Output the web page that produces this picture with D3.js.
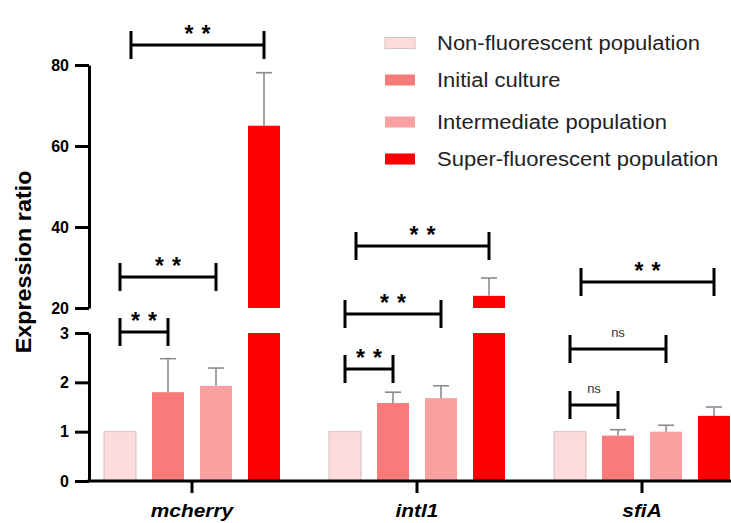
<!DOCTYPE html>
<html>
<head>
<meta charset="utf-8">
<script src="https://cdn.jsdelivr.net/npm/d3@7"></script>
<style>
  html, body { margin: 0; padding: 0; background: #fff; }
  svg { display: block; font-family: "Liberation Sans", Arial, sans-serif; }
</style>
</head>
<body>
<svg id="chart" width="731" height="523"></svg>
<script>
// ---------------- data ----------------
const categories = ["mcherry", "intl1", "sfiA"];
const seriesNames = ["Non-fluorescent population", "Initial culture", "Intermediate population", "Super-fluorescent population"];
const nonFluorescent = [1, 1, 1];
const initialCulture = [1.80, 1.58, 0.92];
const intermediate = [1.93, 1.68, 1.00];
const superFluorescent = [65, 23.0, 1.32];
const nonFluorescentErr = [0, 0, 0];
const initialCultureErr = [0.68, 0.22, 0.12];
const intermediateErr = [0.36, 0.25, 0.13];
const superFluorescentErr = [13.1, 4.4, 0.18];
const lowerTicks = [0, 1, 2, 3];
const upperTicks = [20, 40, 60, 80];
// significance comparisons: category index, from series, to series, label
const comparisons = [
  { cat: 0, from: 0, to: 1, label: "**" },
  { cat: 0, from: 0, to: 2, label: "**" },
  { cat: 0, from: 0, to: 3, label: "**" },
  { cat: 1, from: 0, to: 1, label: "**" },
  { cat: 1, from: 0, to: 2, label: "**" },
  { cat: 1, from: 0, to: 3, label: "**" },
  { cat: 2, from: 0, to: 1, label: "ns" },
  { cat: 2, from: 0, to: 2, label: "ns" },
  { cat: 2, from: 0, to: 3, label: "**" }
];

// ---------------- layout ----------------
const colors = ["#fddadc", "#f87a7a", "#f9a0a1", "#ff0000"];
const bracketY = [332, 277, 45, 369, 314, 246, 405, 349, 282]; // annotation pixel rows
const legendRows = [43, 80, 122, 159];

const values = [nonFluorescent, initialCulture, intermediate, superFluorescent];
const errors = [nonFluorescentErr, initialCultureErr, intermediateErr, superFluorescentErr];

const svg = d3.select("#chart");
const axisX = 89, baseY = 481;

const yLow = d3.scaleLinear().domain([0, 3]).range([481, 333]);
const yHigh = d3.scaleLinear().domain([20, 80]).range([308, 65]);
const x = d3.scaleBand().domain(categories).range([79.5, 754.5]);
const xs = d3.scaleBand().domain(d3.range(seriesNames.length)).range([-96, 96]).paddingInner(1/3).paddingOuter(1/6);

const bars = [];
categories.forEach((c, ci) => {
  seriesNames.forEach((s, si) => {
    bars.push({ cat: c, ci, si, v: values[si][ci], e: errors[si][ci] });
  });
});

const gBars = svg.append("g");
bars.forEach(b => {
  const x0 = x(b.cat) + x.bandwidth() / 2 + xs(b.si);
  const w = xs.bandwidth();
  const stroke = b.si === 0 ? "#d4c0c0" : "none";
  if (b.v <= 3) {
    gBars.append("rect").attr("x", x0).attr("y", yLow(b.v)).attr("width", w)
      .attr("height", yLow(0) - yLow(b.v)).attr("fill", colors[b.si])
      .attr("stroke", stroke).attr("stroke-width", 1);
  } else {
    gBars.append("rect").attr("x", x0).attr("y", yLow(3)).attr("width", w)
      .attr("height", yLow(0) - yLow(3)).attr("fill", colors[b.si]);
    gBars.append("rect").attr("x", x0).attr("y", yHigh(b.v)).attr("width", w)
      .attr("height", yHigh(20) - yHigh(b.v)).attr("fill", colors[b.si]);
  }
  if (b.e > 0) {
    const yf = b.v <= 3 ? yLow : yHigh;
    const cx = x0 + w / 2;
    gBars.append("line").attr("x1", cx).attr("x2", cx).attr("y1", yf(b.v)).attr("y2", yf(b.v + b.e))
      .attr("stroke", "#8c8c8c").attr("stroke-width", 1.6);
    gBars.append("line").attr("x1", cx - 8).attr("x2", cx + 8).attr("y1", yf(b.v + b.e)).attr("y2", yf(b.v + b.e))
      .attr("stroke", "#8c8c8c").attr("stroke-width", 1.6);
  }
});

// ---------------- axes ----------------
function styleAxis(g) {
  g.select(".domain").attr("stroke", "#000").attr("stroke-width", 3);
  g.selectAll(".tick line").attr("stroke", "#000").attr("stroke-width", 3);
  g.selectAll(".tick text").attr("fill", "#000").attr("font-size", 16).attr("font-weight", "bold")
    .attr("font-family", "Liberation Sans, Arial, sans-serif");
}
svg.append("g").attr("transform", `translate(${axisX},0)`)
  .call(d3.axisLeft(yLow).tickValues(lowerTicks).tickFormat(d3.format("d")).tickSize(14).tickSizeOuter(0).tickPadding(6))
  .call(styleAxis);
svg.append("g").attr("transform", `translate(${axisX},0)`)
  .call(d3.axisLeft(yHigh).tickValues(upperTicks).tickFormat(d3.format("d")).tickSize(14).tickSizeOuter(0).tickPadding(6))
  .call(styleAxis);

// x axis
svg.append("line").attr("x1", axisX - 1.5).attr("x2", 731).attr("y1", baseY).attr("y2", baseY)
  .attr("stroke", "#000").attr("stroke-width", 3);
const gx = svg.append("g").attr("transform", `translate(0,${baseY})`)
  .call(d3.axisBottom(x).tickSize(12).tickSizeOuter(0).tickPadding(11));
gx.select(".domain").remove();
gx.selectAll(".tick line").attr("stroke", "#000").attr("stroke-width", 3);
gx.selectAll(".tick text").attr("fill", "#000").attr("font-size", 19).attr("font-weight", "bold")
  .attr("font-style", "italic").attr("font-family", "Liberation Sans, Arial, sans-serif")
  .attr("dy", "0.71em")
  .each(function () {
    const len = this.getComputedTextLength();
    d3.select(this).attr("textLength", len * 1.1).attr("lengthAdjust", "spacingAndGlyphs");
  });

// y title
svg.append("text").attr("transform", "translate(31,262) rotate(-90)")
  .attr("text-anchor", "middle").attr("font-size", 22).attr("font-weight", "bold")
  .attr("fill", "#000").text("Expression ratio")
  .each(function () {
    const len = this.getComputedTextLength();
    d3.select(this).attr("textLength", len * 1.06).attr("lengthAdjust", "spacingAndGlyphs");
  });

// ---------------- significance brackets ----------------
const gSig = svg.append("g");
comparisons.forEach((c, i) => {
  const cx = x(categories[c.cat]) + x.bandwidth() / 2;
  let xa = cx + xs(c.from) + xs.bandwidth() / 2;
  const xb = cx + xs(c.to) + xs.bandwidth() / 2;
  if (c.to === 3) xa += 11;
  const y = bracketY[i];
  gSig.append("line").attr("x1", xa).attr("x2", xb).attr("y1", y).attr("y2", y)
    .attr("stroke", "#000").attr("stroke-width", 3);
  [xa, xb].forEach(xx => gSig.append("line").attr("x1", xx).attr("x2", xx)
    .attr("y1", y - 14).attr("y2", y + 14).attr("stroke", "#000").attr("stroke-width", 3));
  const mid = (xa + xb) / 2;
  if (c.label === "**") {
    gSig.append("text").attr("x", mid + 4).attr("y", y - 3).attr("text-anchor", "middle")
      .attr("font-size", 23).attr("font-weight", "bold").attr("letter-spacing", 8)
      .attr("fill", "#000").text(c.label);
  } else {
    gSig.append("text").attr("x", mid).attr("y", y - 12).attr("text-anchor", "middle")
      .attr("font-size", 13).attr("fill", "#333").text(c.label);
  }
});

// ---------------- legend ----------------
const gLeg = svg.append("g");
seriesNames.forEach((s, i) => {
  const y = legendRows[i];
  gLeg.append("rect").attr("x", 385).attr("y", y - 5.5).attr("width", 30).attr("height", 11)
    .attr("fill", colors[i]).attr("stroke", i === 0 ? "#d4c0c0" : "none");
  gLeg.append("text").attr("x", 437).attr("y", y).attr("dy", "0.35em")
    .attr("font-size", 20).attr("fill", "#222").text(s)
    .each(function () {
      const len = this.getComputedTextLength();
      d3.select(this).attr("textLength", len * 1.1).attr("lengthAdjust", "spacingAndGlyphs");
    });
});
</script>
</body>
</html>
